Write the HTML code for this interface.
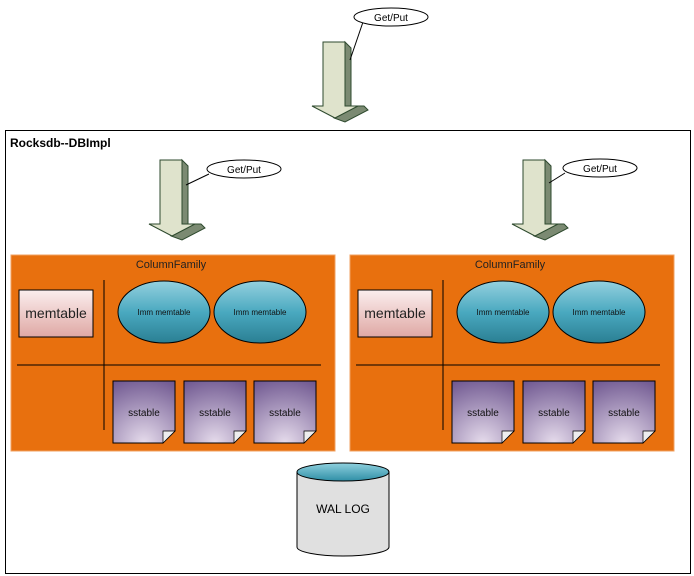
<!DOCTYPE html>
<html><head><style>body{margin:0;background:#fff}svg{display:block}text{font-family:"Liberation Sans",sans-serif}</style></head><body>
<svg width="694" height="576" viewBox="0 0 694 576" xmlns="http://www.w3.org/2000/svg">
<defs>
<linearGradient id="mt" x1="0" y1="0" x2="0" y2="1"><stop offset="0" stop-color="#fbeeee"/><stop offset="1" stop-color="#dfa8a4"/></linearGradient>
<linearGradient id="im" x1="0" y1="0" x2="0" y2="1"><stop offset="0" stop-color="#94d0de"/><stop offset="0.5" stop-color="#4aa9c0"/><stop offset="1" stop-color="#2a7f93"/></linearGradient>
<radialGradient id="ss" cx="0.5" cy="1" r="1.1"><stop offset="0" stop-color="#e6dcec"/><stop offset="1" stop-color="#6f5790"/></radialGradient>
<linearGradient id="cy" x1="0" y1="0" x2="0" y2="1"><stop offset="0" stop-color="#8fd0de"/><stop offset="1" stop-color="#2f8fa6"/></linearGradient>
<g id="arrow">
<polygon points="22,0 28,6 28,64 41,64 45,68 22,80 11,76 0,64 22,64" fill="#7b8a72" stroke="#2e4a2e" stroke-width="1"/>
<polygon points="0,0 22,0 22,64 35,64 12,76 -11,64 0,64" fill="#dfe3cc" stroke="#2e4a2e" stroke-width="1"/>
</g>
<g id="cf">
<rect x="0" y="0" width="324" height="196" fill="#e8700e" stroke="#f0a060" stroke-width="1"/>
<text x="160" y="13" font-size="11" text-anchor="middle" fill="#222">ColumnFamily</text>
<rect x="8" y="35" width="74" height="47" fill="url(#mt)" stroke="#000"/>
<text x="45" y="63" font-size="14" text-anchor="middle" fill="#222">memtable</text>
<line x1="93" y1="25" x2="93" y2="175" stroke="#000"/>
<line x1="6" y1="110" x2="310" y2="110" stroke="#000"/>
<ellipse cx="153" cy="57" rx="46" ry="31" fill="url(#im)" stroke="#000"/>
<text x="153" y="60" font-size="8" text-anchor="middle" fill="#111">Imm memtable</text>
<ellipse cx="249" cy="57" rx="46" ry="31" fill="url(#im)" stroke="#000"/>
<text x="249" y="60" font-size="8" text-anchor="middle" fill="#111">Imm memtable</text>
<g id="ss1"><polygon points="102,126 164,126 164,176 152,188 102,188" fill="url(#ss)" stroke="#000"/><polygon points="152,188 164,176 152,176" fill="#eee" stroke="#000" stroke-width="0.7"/><text x="133" y="161" font-size="10" font-family="Liberation Mono,monospace" text-anchor="middle" fill="#111">sstable</text></g>
<use href="#ss1" x="71"/>
<use href="#ss1" x="141"/>
</g>
</defs>
<use href="#arrow" x="323" y="42"/>
<line x1="363" y1="22" x2="350" y2="60" stroke="#000"/>
<ellipse cx="391" cy="17" rx="37" ry="9" fill="#fff" stroke="#000"/>
<text x="391" y="21" font-size="10" text-anchor="middle">Get/Put</text>
<rect x="5.5" y="130.5" width="685" height="443" fill="#fff" stroke="#000"/>
<text x="10" y="147" font-size="12" font-weight="bold">Rocksdb--DBImpl</text>
<use href="#arrow" x="160" y="160" transform="translate(0,0)"/>
<line x1="209" y1="174" x2="186" y2="185" stroke="#000"/>
<ellipse cx="244" cy="169" rx="37" ry="9" fill="#fff" stroke="#000"/>
<text x="244" y="173" font-size="10" text-anchor="middle">Get/Put</text>
<use href="#arrow" x="523" y="160"/>
<line x1="565" y1="173" x2="549" y2="183" stroke="#000"/>
<ellipse cx="600" cy="168" rx="37" ry="9" fill="#fff" stroke="#000"/>
<text x="600" y="172" font-size="10" text-anchor="middle">Get/Put</text>
<use href="#cf" x="11" y="255"/>
<use href="#cf" x="350" y="255"/>
<path d="M297,472 L297,547 A46,9 0 0 0 389,547 L389,472" fill="#e0e0e0" stroke="#000"/>
<ellipse cx="343" cy="472" rx="46" ry="9" fill="url(#cy)" stroke="#000"/>
<text x="343" y="513" font-size="12" text-anchor="middle">WAL LOG</text>
</svg>
</body></html>
